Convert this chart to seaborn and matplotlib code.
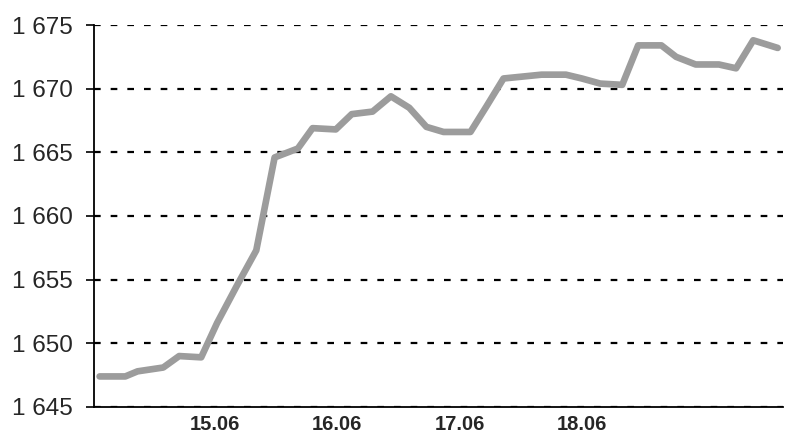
import numpy as np
import pandas as pd
import matplotlib
matplotlib.use('Agg')
import matplotlib.pyplot as plt
import seaborn as sns
from matplotlib.ticker import FuncFormatter

# time position in days (label "15.06" sits at 15.0)
day_pos = [14.06, 14.27, 14.37, 14.58, 14.71, 14.89, 15.02, 15.18, 15.34, 15.49,
           15.68, 15.80, 15.99, 16.12, 16.29, 16.44, 16.59, 16.73, 16.87, 17.09,
           17.22, 17.36, 17.67, 17.87, 18.00, 18.15, 18.33, 18.46, 18.65, 18.77,
           18.93, 19.12, 19.26, 19.40, 19.60]
values = [1647.4, 1647.4, 1647.8, 1648.1, 1649.0, 1648.9, 1651.6, 1654.5, 1657.3, 1664.6,
          1665.3, 1666.9, 1666.8, 1668.0, 1668.2, 1669.4, 1668.5, 1667.0, 1666.6, 1666.6,
          1668.6, 1670.8, 1671.1, 1671.1, 1670.8, 1670.4, 1670.3, 1673.4, 1673.4, 1672.5,
          1671.9, 1671.9, 1671.6, 1673.8, 1673.2]
tick_days = [15, 16, 17, 18]
tick_labels = ['15.06', '16.06', '17.06', '18.06']

df = pd.DataFrame({'day': day_pos, 'value': values})

sns.set_style('white')
plt.rcParams['font.family'] = ['Liberation Sans', 'DejaVu Sans']

fig = plt.figure(figsize=(7.85, 4.38), dpi=100)
ax = fig.add_axes([0.1197, 0.0708, 0.878, 0.8721])

sns.lineplot(data=df, x='day', y='value', color='#9c9c9c', linewidth=4.8, ax=ax, zorder=3)

ax.set_xlim(14.014, 19.645)
ax.set_ylim(1645, 1675)
ax.set_yticks(np.arange(1645, 1676, 5))
ax.yaxis.set_major_formatter(FuncFormatter(lambda v, p: f'{int(v):,}'.replace(',', ' ')))
ax.set_xticks(tick_days)
ax.set_xticklabels(tick_labels, fontweight='bold', fontsize=14.5)
ax.tick_params(axis='y', labelsize=17.5, length=6, width=1.2, color='black', left=True, pad=9)
ax.tick_params(axis='x', length=0, pad=6)

# dotted grid lines
ax.yaxis.grid(True, color='black', linewidth=1.6, linestyle=(0, (3, 4.5)), zorder=1)
ax.xaxis.grid(False)

ax.set(xlabel=None, ylabel=None)
for side in ['top', 'right']:
    ax.spines[side].set_visible(False)
for side in ['left', 'bottom']:
    ax.spines[side].set_color('black')
    ax.spines[side].set_linewidth(1.3)

fig.savefig('out.png', dpi=100)
